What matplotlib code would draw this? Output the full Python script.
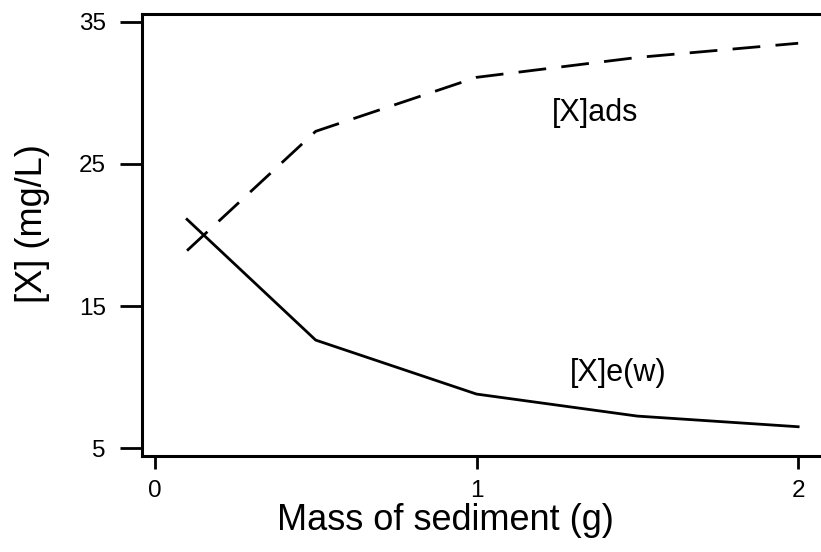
import matplotlib
matplotlib.use("Agg")
import matplotlib.pyplot as plt

plt.rcParams['font.family'] = ['Liberation Sans', 'DejaVu Sans']

mass = [0.1, 0.5, 1.0, 1.5, 2.0]
x_ads = [18.9, 27.3, 31.1, 32.5, 33.5]
x_ew = [21.1, 12.6, 8.8, 7.25, 6.5]
xticks = [0, 1, 2]
yticks = [5, 15, 25, 35]

W, H = 821, 552
fig = plt.figure(figsize=(W / 100, H / 100), dpi=100)
ax = fig.add_axes([142 / W, 1 - 456 / H, 1 - 142 / W, (456 - 14) / H])

ax.plot(mass, x_ads, color='black', lw=2.0, linestyle=(0, (10, 5.5)),
        solid_capstyle='butt', dash_capstyle='butt')
ax.plot(mass, x_ew, color='black', lw=2.0)

ax.set_xlim(-0.040, 2.071)
ax.set_ylim(4.44, 35.56)
ax.set_xticks(xticks)
ax.set_yticks(yticks)
ax.set_xticklabels([str(t) for t in xticks], fontsize=17.5)
ax.set_yticklabels([str(t) for t in yticks], fontsize=17.5)

ax.spines['right'].set_visible(False)
for s in ('left', 'bottom', 'top'):
    ax.spines[s].set_linewidth(2.2)

ax.tick_params(axis='y', direction='out', length=16, width=2, pad=10)
ax.tick_params(axis='x', direction='out', length=9, width=2, pad=8)

ax.set_xlabel('Mass of sediment (g)', fontsize=26)
ax.set_ylabel('[X] (mg/L)', fontsize=26)
ax.xaxis.set_label_coords((445 - 142) / (W - 142), -(520 - 456) / (456 - 14))
ax.xaxis.label.set_verticalalignment('center')
ax.yaxis.set_label_coords(-(142 - 33) / (W - 142), (456 - 224) / (456 - 14))
ax.yaxis.label.set_verticalalignment('center')

ax.text(1.37, 28.6, '[X]ads', fontsize=22, ha='center', va='center')
ax.text(1.44, 10.3, '[X]e(w)', fontsize=22, ha='center', va='center')

fig.savefig('out.png', dpi=100)
